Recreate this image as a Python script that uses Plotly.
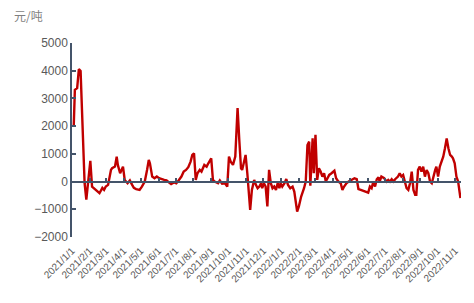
import plotly.graph_objects as go

dates = [
    "2021-01-04", "2021-01-06", "2021-01-10", "2021-01-13", "2021-01-16", "2021-01-17",
    "2021-01-21", "2021-01-23", "2021-01-26", "2021-01-30", "2021-02-02", "2021-02-05",
    "2021-02-10", "2021-02-15", "2021-02-18", "2021-02-23", "2021-02-26", "2021-03-01",
    "2021-03-05", "2021-03-10", "2021-03-12", "2021-03-17", "2021-03-20", "2021-03-22",
    "2021-03-26", "2021-03-31", "2021-04-03", "2021-04-08", "2021-04-12", "2021-04-16",
    "2021-04-19", "2021-04-23", "2021-04-29", "2021-05-03", "2021-05-08", "2021-05-12",
    "2021-05-15", "2021-05-17", "2021-05-21", "2021-05-25", "2021-05-29", "2021-06-02",
    "2021-06-06", "2021-06-11", "2021-06-15", "2021-06-19", "2021-06-23", "2021-06-28",
    "2021-07-02", "2021-07-06", "2021-07-11", "2021-07-15", "2021-07-19", "2021-07-23",
    "2021-07-27", "2021-07-30", "2021-08-02", "2021-08-05", "2021-08-08", "2021-08-12",
    "2021-08-15", "2021-08-20", "2021-08-24", "2021-08-27", "2021-08-29", "2021-09-01",
    "2021-09-04", "2021-09-07", "2021-09-13", "2021-09-16", "2021-09-20", "2021-09-25",
    "2021-09-29", "2021-10-02", "2021-10-05", "2021-10-09", "2021-10-13", "2021-10-17",
    "2021-10-20", "2021-10-23", "2021-10-25", "2021-10-28", "2021-10-31", "2021-11-03",
    "2021-11-06", "2021-11-08", "2021-11-11", "2021-11-15", "2021-11-18", "2021-11-21",
    "2021-11-24", "2021-11-27", "2021-11-29", "2021-12-02", "2021-12-05", "2021-12-08",
    "2021-12-11", "2021-12-14", "2021-12-17", "2021-12-20", "2021-12-23", "2021-12-26",
    "2021-12-29", "2021-12-31", "2022-01-03", "2022-01-07", "2022-01-10", "2022-01-13",
    "2022-01-17", "2022-01-21", "2022-01-24", "2022-01-27", "2022-01-29", "2022-02-01",
    "2022-02-05", "2022-02-10", "2022-02-13", "2022-02-16", "2022-02-19", "2022-02-21",
    "2022-02-25", "2022-02-27", "2022-03-02", "2022-03-05", "2022-03-08", "2022-03-11",
    "2022-03-14", "2022-03-17", "2022-03-20", "2022-03-23", "2022-03-26", "2022-03-30",
    "2022-04-04", "2022-04-07", "2022-04-11", "2022-04-15", "2022-04-18", "2022-04-21",
    "2022-04-25", "2022-04-29", "2022-05-04", "2022-05-09", "2022-05-13", "2022-05-16",
    "2022-05-20", "2022-05-24", "2022-05-28", "2022-06-02", "2022-06-05", "2022-06-08",
    "2022-06-11", "2022-06-14", "2022-06-17", "2022-06-20", "2022-06-22", "2022-06-25",
    "2022-06-30", "2022-07-04", "2022-07-07", "2022-07-10", "2022-07-13", "2022-07-16",
    "2022-07-19", "2022-07-21", "2022-07-24", "2022-07-27", "2022-07-30", "2022-08-02",
    "2022-08-05", "2022-08-08", "2022-08-11", "2022-08-14", "2022-08-17", "2022-08-20",
    "2022-08-23", "2022-08-25", "2022-08-28", "2022-08-31", "2022-09-03", "2022-09-06",
    "2022-09-09", "2022-09-12", "2022-09-15", "2022-09-18", "2022-09-21", "2022-09-24",
    "2022-09-27", "2022-09-29", "2022-10-02", "2022-10-05", "2022-10-08", "2022-10-11",
    "2022-10-14", "2022-10-17", "2022-10-20", "2022-10-23", "2022-10-26", "2022-10-28",
    "2022-10-31", "2022-11-03", "2022-11-06", "2022-11-08", "2022-11-10",
]

values = [
    1985, 3310, 3370, 4060, 3990, 3430,
    1260, -60, -650, 180, 750, -180,
    -270, -360, -420, -230, -300, -180,
    -120, 420, 480, 540, 900, 600,
    300, 540, 60, -60, 40, -120,
    -230, -270, -300, -180, 0, 420,
    780, 660, 180, 120, 180, 120,
    85, 60, 40, -30, -90, -30,
    -60, 40, 180, 360, 420, 520,
    720, 960, 1020, 60, 300, 420,
    360, 600, 540, 660, 720, 840,
    60, 0, -60, 40, -80, -60,
    -180, 900, 720, 600, 900, 2650,
    1500, 480, 420, 660, 960, 300,
    -420, -1020, -300, 60, -120, -240,
    -180, -60, -240, -60, -180, -900,
    420, -60, -240, -180, -300, -60,
    -240, -60, -180, -60, 90, -120,
    -240, -180, -360, -780, -1080, -900,
    -540, -240, 0, 1320, 1440, -150,
    1560, 300, 1690, 60, 480, 360,
    180, 300, 0, 120, 240, 300,
    390, 120, 0, -60, -300, -180,
    -60, 0, 60, 120, 85, -270,
    -300, -330, -360, -400, -180, -240,
    0, -180, 85, 150, 0, 180,
    120, 0, 60, 0, 85, 0,
    85, 120, 180, 300, 180, 240,
    0, -240, -300, -60, 360, -300,
    -480, -480, 420, 540, 360, 540,
    180, 420, 300, 0, -60, 240,
    420, 540, 180, 540, 720, 900,
    1200, 1560, 1200, 960, 900, 840,
    660, 180, 0, -420, -600,
]

tick_dates = [
    "2021-01-01", "2021-02-01", "2021-03-01", "2021-04-01", "2021-05-01", "2021-06-01",
    "2021-07-01", "2021-08-01", "2021-09-01", "2021-10-01", "2021-11-01", "2021-12-01",
    "2022-01-01", "2022-02-01", "2022-03-01", "2022-04-01", "2022-05-01", "2022-06-01",
    "2022-07-01", "2022-08-01", "2022-09-01", "2022-10-01", "2022-11-01",
]
tick_labels = [
    "2021/1/1", "2021/2/1", "2021/3/1", "2021/4/1", "2021/5/1", "2021/6/1",
    "2021/7/1", "2021/8/1", "2021/9/1", "2021/10/1", "2021/11/1", "2021/12/1",
    "2022/1/1", "2022/2/1", "2022/3/1", "2022/4/1", "2022/5/1", "2022/6/1",
    "2022/7/1", "2022/8/1", "2022/9/1", "2022/10/1", "2022/11/1",
]

y_ticks = [-2000, -1000, 0, 1000, 2000, 3000, 4000, 5000]
unit_label = "元/吨"

axis_color = "#44546A"
text_color = "#595959"

fig = go.Figure()
fig.add_trace(go.Scatter(
    x=dates, y=values, mode="lines",
    line=dict(color="#C00000", width=2.4),
    showlegend=False, hoverinfo="x+y",
))

x_range = ["2021-01-01", "2022-11-11"]

fig.update_layout(
    width=474, height=303,
    margin=dict(l=72, r=13, t=43, b=66),
    paper_bgcolor="white", plot_bgcolor="white",
    font=dict(family="Liberation Sans, Arial, Noto Sans CJK SC", color=text_color),
    xaxis=dict(
        type="date", range=x_range,
        tickmode="array", tickvals=tick_dates, ticktext=tick_labels,
        tickangle=-45, tickfont=dict(size=10, color=text_color),
        ticklabelstandoff=5,
        showgrid=False, zeroline=False, showline=False, ticks="",
    ),
    xaxis2=dict(
        type="date", range=x_range, matches="x", overlaying="x",
        anchor="free", position=2 / 7,
        tickmode="array", tickvals=tick_dates,
        showticklabels=False, showgrid=False, zeroline=False,
        showline=True, linecolor=axis_color, linewidth=1.5,
        ticks="inside", ticklen=3, tickcolor=axis_color, tickwidth=1.5,
    ),
    yaxis=dict(
        range=[-2000, 5000], tickvals=y_ticks,
        tickfont=dict(size=12, color=text_color),
        showgrid=False, zeroline=False,
        showline=True, linecolor=axis_color, linewidth=1.5,
        ticks="inside", ticklen=4, tickcolor=axis_color, tickwidth=1.5,
    ),
    annotations=[dict(
        text=unit_label, xref="paper", yref="paper",
        x=-0.155, y=1.09, xanchor="left", yanchor="bottom", showarrow=False,
        font=dict(size=12, color="#7F7F7F", family="Noto Sans CJK SC"),
    )],
)

fig.add_trace(go.Scatter(
    x=x_range, y=[0, 0], xaxis="x2", yaxis="y", mode="lines",
    line=dict(width=0), showlegend=False, hoverinfo="skip",
))

fig.write_html("out.html")
